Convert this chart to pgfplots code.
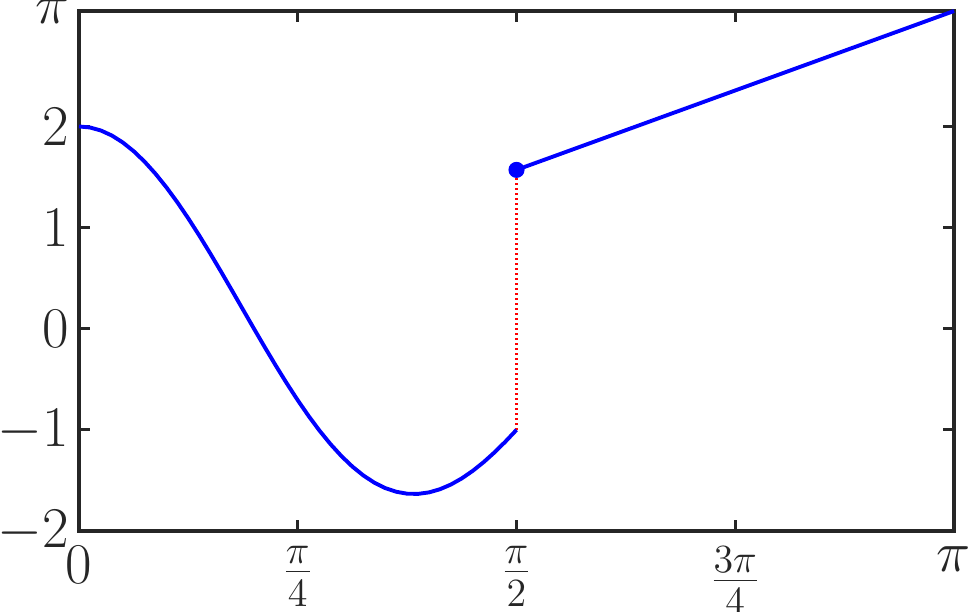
\documentclass[border=0pt]{standalone}
\usepackage{pgfplots}
\pgfplotsset{compat=1.18}
\definecolor{axgray}{RGB}{38,38,38}
\begin{document}
\begin{tikzpicture}
\begin{axis}[
  scale only axis,
  width=315pt, height=187.2pt,
  xmin=0, xmax=3.141593, ymin=-2, ymax=3.141593,
  axis line style={axgray, line width=1.1pt},
  tick style={axgray, line width=1.1pt},
  major tick length=4pt,
  tick align=inside,
  xtick={0,0.785398,1.570796,2.356194,3.141593},
  xticklabels={$0$,$\frac{\pi}{4}$,$\frac{\pi}{2}$,$\frac{3\pi}{4}$,$\pi$},
  ytick={-2,-1,0,1,2,3.141593},
  yticklabels={$-2$,$-1$,$0$,$1$,$2$,$\pi$},
  tick label style={font=\huge, text=axgray},
  xticklabel style={yshift=-2pt},
  clip=false,
]
\addplot[red, line width=0.8pt, dash pattern=on 0.7pt off 1.1pt] coordinates {(1.570796,-1) (1.570796,1.570796)};
\addplot[blue, line width=1.4pt] coordinates {
(0,2) (0.03927,1.98999) (0.07854,1.96006) (0.11781,1.91056) (0.15708,1.84207)
(0.19635,1.75535) (0.23562,1.65142) (0.27489,1.53144) (0.31416,1.39681)
(0.35343,1.24903) (0.39270,1.08979) (0.43197,0.92089) (0.47124,0.74422)
(0.51051,0.56176) (0.54978,0.37553) (0.58905,0.18759) (0.62832,0)
(0.66759,-0.18521) (0.70686,-0.36607) (0.74613,-0.54063) (0.78540,-0.70711)
(0.82467,-0.86378) (0.86394,-1.00907) (0.90321,-1.14159) (0.94248,-1.26008)
(0.98175,-1.36347) (1.02102,-1.45091) (1.06029,-1.52173) (1.09956,-1.57548)
(1.13883,-1.61191) (1.17810,-1.63099) (1.21737,-1.63291) (1.25664,-1.61804)
(1.29591,-1.58696) (1.33518,-1.54046) (1.37445,-1.47945) (1.41372,-1.40505)
(1.45299,-1.31849) (1.49226,-1.22114) (1.53153,-1.11446) (1.57080,-1)
};
\addplot[blue, line width=1.4pt] coordinates {(1.570796,1.570796) (3.141593,3.141593)};
\addplot[blue, only marks, mark=*, mark size=2.7pt] coordinates {(1.570796,1.570796)};
\end{axis}
\pgfresetboundingbox
\useasboundingbox ([xshift=-28.44pt,yshift=-28.8pt]current axis.south west) rectangle ([xshift=5.4pt,yshift=3.96pt]current axis.north east);
\end{tikzpicture}
\end{document}
